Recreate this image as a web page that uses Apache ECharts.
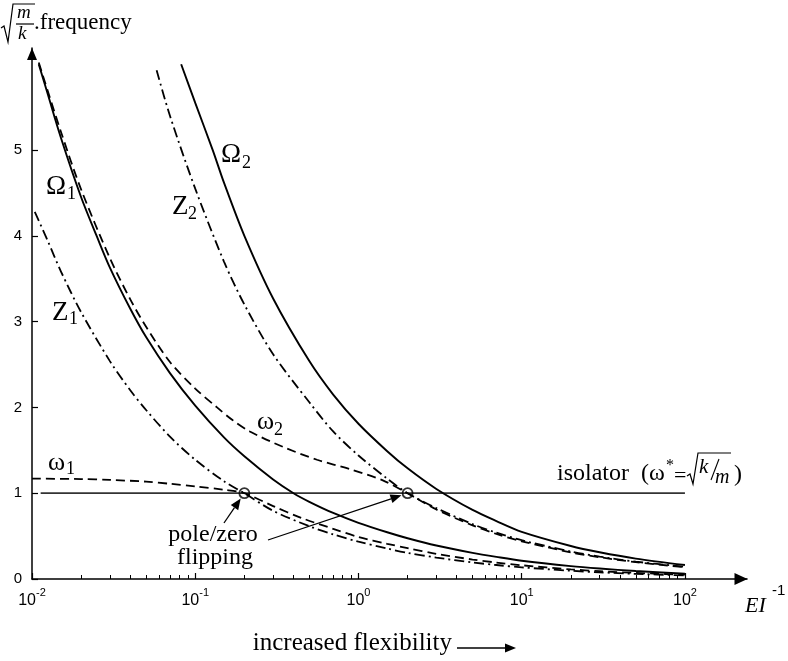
<!DOCTYPE html>
<html>
<head>
<meta charset="utf-8">
<script src="https://cdn.jsdelivr.net/npm/echarts@6/dist/echarts.min.js"></script>
<style>
  html, body { margin: 0; background: #fff; }
  #chart { width: 788px; height: 661px; }
</style>
</head>
<body>
<div id="chart"></div>
<script>
// tick values
const X_TICKS = [0.01, 0.1, 1, 10, 100];
const Y_TICKS = [0, 1, 2, 3, 4, 5];
const X_MINOR = [];
X_TICKS.slice(0, 4).forEach(d => {
    for (let k = 2; k <= 9; k++) X_MINOR.push(+(d * k).toPrecision(3));
});

// curves: [EI^-1, sqrt(m/k)*frequency]
const OMEGA_1 = [[0.011, 6.0], [0.0125, 5.65], [0.015, 5.15], [0.02, 4.45], [0.025, 3.99], [0.03, 3.63],
    [0.04, 3.15], [0.05, 2.82], [0.07, 2.40], [0.1, 2.02], [0.15, 1.65], [0.2, 1.43], [0.3, 1.16],
    [0.4, 1.0], [0.5, 0.90], [0.7, 0.77], [1, 0.655], [1.5, 0.545], [2, 0.475], [3, 0.39], [5, 0.305],
    [7, 0.258], [10, 0.213], [20, 0.15], [30, 0.122], [50, 0.093], [100, 0.063]];
const OMEGA_2 = [[0.082, 6.0], [0.1, 5.55], [0.128, 5.0], [0.15, 4.62], [0.2, 4.0], [0.3, 3.27],
    [0.5, 2.54], [0.7, 2.15], [1, 1.81], [1.5, 1.49], [2, 1.29], [3, 1.05], [5, 0.805], [7, 0.675],
    [10, 0.55], [20, 0.385], [30, 0.312], [50, 0.238], [100, 0.163]];
const ZERO_1 = [[0.0104, 4.28], [0.0125, 3.94], [0.015, 3.59], [0.02, 3.11], [0.03, 2.54], [0.04, 2.2],
    [0.05, 1.97], [0.07, 1.66], [0.1, 1.39], [0.15, 1.14], [0.2, 1.0], [0.3, 0.795], [0.5, 0.615],
    [0.7, 0.52], [1, 0.435], [1.5, 0.355], [2, 0.305], [3, 0.25], [5, 0.193], [7, 0.163], [10, 0.136],
    [20, 0.096], [30, 0.078], [50, 0.06], [100, 0.042]];
const ZERO_2 = [[0.058, 5.93], [0.07, 5.4], [0.1, 4.55], [0.15, 3.7], [0.2, 3.2], [0.3, 2.62],
    [0.5, 2.06], [0.7, 1.72], [1, 1.44], [1.5, 1.17], [2, 1.0], [3, 0.826], [5, 0.64], [7, 0.54],
    [10, 0.452], [20, 0.32], [30, 0.261], [50, 0.202], [100, 0.143]];
const W_1 = [[0.01, 1.17], [0.02, 1.165], [0.03, 1.155], [0.05, 1.135], [0.07, 1.11], [0.1, 1.08],
    [0.15, 1.04], [0.2, 1.0], [0.3, 0.85], [0.45, 0.71], [0.7, 0.585], [1, 0.49], [1.5, 0.41],
    [2, 0.36], [3, 0.293], [5, 0.227], [7, 0.192], [10, 0.16], [20, 0.112], [30, 0.092], [50, 0.071],
    [100, 0.05]];
const W_2 = [[0.011, 6.02], [0.015, 5.22], [0.02, 4.54], [0.03, 3.74], [0.04, 3.26], [0.05, 2.94],
    [0.07, 2.53], [0.1, 2.22], [0.136, 2.0], [0.17, 1.85], [0.216, 1.72], [0.345, 1.54], [0.557, 1.39],
    [0.887, 1.28], [1.41, 1.15], [2, 1.0], [3, 0.81], [5, 0.625], [7, 0.525], [10, 0.44], [20, 0.31],
    [30, 0.254], [50, 0.196], [100, 0.138]];
const ISOLATOR = [[0.0113, 1], [100, 1]];
const POLE_ZERO = [[0.2, 1], [2, 1]];

const SERIF = "'Liberation Serif', 'Times New Roman', serif";
const SANS = "'Liberation Sans', Arial, sans-serif";

const chart = echarts.init(document.getElementById("chart"));

const curve = (data, type, width) => ({
    type: "line",
    data: data,
    showSymbol: false,
    smooth: 0.3,
    silent: true,
    lineStyle: { color: "#000", width: width, type: type }
});

const DASH = [9, 5];
const DASH_DOT = [10, 4, 2, 4];

const option = {
    animation: false,
    backgroundColor: "#fff",
    grid: { left: 32, right: 41, top: 48, bottom: 82 },
    xAxis: [
        {
            type: "log",
            logBase: 10,
            min: 0.01,
            max: 240,
            axisLine: {
                onZero: false,
                symbol: ["none", "triangle"],
                symbolSize: [12, 13],
                symbolOffset: [0, -6],
                lineStyle: { color: "#000", width: 1.5 }
            },
            axisTick: { inside: true, length: 6, customValues: X_TICKS, lineStyle: { color: "#000", width: 1.2 } },
            axisLabel: {
                customValues: X_TICKS,
                margin: 8,
                formatter: v => "{a|10}{s|" + Math.round(Math.log10(v)) + "}",
                rich: {
                    a: { fontFamily: SANS, fontSize: 16, color: "#000", lineHeight: 28, verticalAlign: "middle" },
                    s: { fontFamily: SANS, fontSize: 11, color: "#000", lineHeight: 12, verticalAlign: "top" }
                }
            },
            splitLine: { show: false }
        },
        {
            type: "log",
            logBase: 10,
            min: 0.01,
            max: 240,
            position: "bottom",
            axisLine: { show: false },
            axisTick: { inside: true, length: 4, customValues: X_MINOR, lineStyle: { color: "#000", width: 1 } },
            axisLabel: { show: false },
            splitLine: { show: false }
        }
    ],
    yAxis: {
        type: "value",
        min: 0,
        max: 6.19,
        axisLine: {
            show: true,
            onZero: false,
            symbol: ["none", "triangle"],
            symbolSize: [10, 12],
            symbolOffset: [0, -6],
            lineStyle: { color: "#000", width: 1.5 }
        },
        axisTick: { show: true, inside: true, length: 6, customValues: Y_TICKS, lineStyle: { color: "#000", width: 1.2 } },
        axisLabel: { customValues: Y_TICKS, margin: 10, fontFamily: SANS, fontSize: 15, color: "#000" },
        splitLine: { show: false }
    },
    series: [
        {
            type: "line",
            data: ISOLATOR,
            showSymbol: false,
            silent: true,
            lineStyle: { color: "#333", width: 1.8 }
        },
        curve(OMEGA_1, "solid", 1.9),
        curve(OMEGA_2, "solid", 1.9),
        curve(W_1, DASH, 1.8),
        curve(W_2, DASH, 1.8),
        curve(ZERO_1, DASH_DOT, 1.8),
        curve(ZERO_2, DASH_DOT, 1.8),
        {
            type: "scatter",
            data: POLE_ZERO,
            symbol: "circle",
            symbolSize: 10,
            silent: true,
            z: 5,
            itemStyle: { color: "rgba(0,0,0,0)", borderColor: "#000", borderWidth: 1.8 }
        }
    ]
};
chart.setOption(option);

// annotation helpers
function txt(text, x, y, size, extra) {
    const style = Object.assign({
        text: text, fontFamily: SERIF, fontSize: size, fill: "#000",
        textAlign: "left", align: "left", textVerticalAlign: "middle", verticalAlign: "middle"
    }, extra || {});
    return { type: "text", x: x, y: y, silent: true, style: style };
}
function seg(points, w) {
    return { type: "polyline", silent: true, shape: { points: points }, style: { stroke: "#000", lineWidth: w || 1.3, fill: null } };
}
function arrow(tail, tip, len, half) {
    const dx = tip[0] - tail[0], dy = tip[1] - tail[1];
    const d = Math.hypot(dx, dy), ux = dx / d, uy = dy / d;
    const bx = tip[0] - ux * len, by = tip[1] - uy * len;
    return [
        seg([tail, [bx, by]], 1.3),
        {
            type: "polygon", silent: true,
            shape: { points: [tip, [bx - uy * half, by + ux * half], [bx + uy * half, by - ux * half]] },
            style: { fill: "#000" }
        }
    ];
}
function toCircle(tail, value, r) {
    const c = chart.convertToPixel({ xAxisIndex: 0, yAxisIndex: 0 }, value);
    const dx = tail[0] - c[0], dy = tail[1] - c[1], d = Math.hypot(dx, dy);
    return [c[0] + dx / d * r, c[1] + dy / d * r];
}

const tail1 = [224, 523], tail2 = [268, 540];
const graphics = [
    // y axis title: sqrt(m/k).frequency
    seg([[1, 28], [4, 26], [8, 42], [13, 4], [35, 4]], 1.2),
    txt("m", 17, 13, 19, { fontStyle: "italic" }),
    seg([[16, 24], [34, 24]], 1.2),
    txt("k", 18, 34, 19, { fontStyle: "italic" }),
    txt(".frequency", 34, 23, 23),
    // x axis title
    txt("EI", 745, 606, 22, { fontStyle: "italic" }),
    txt("-1", 772, 591, 15, { fontFamily: SANS }),
    txt("increased flexibility", 452, 643, 25, { textAlign: "right", align: "right" }),
    ...arrow([457, 648], [516, 648], 11, 4.5),
    // curve labels
    txt("Ω", 46, 187, 27), txt("1", 67, 194, 18),
    txt("Ω", 221, 155, 27), txt("2", 242, 163, 18),
    txt("Z", 52, 313, 27), txt("1", 69, 319, 18),
    txt("Z", 172, 207, 27), txt("2", 188, 214, 18),
    txt("ω", 48, 463, 26), txt("1", 66, 469, 18),
    txt("ω", 257, 422, 26), txt("2", 274, 430, 18),
    // isolator
    txt("isolator  (ω", 557, 474, 24),
    txt("*", 666, 466, 16),
    txt("=", 674, 476, 22),
    seg([[687, 476], [690, 474], [693, 484], [698, 453], [731, 453]], 1.2),
    txt("k", 699, 467, 21, { fontStyle: "italic" }),
    seg([[711, 480], [719, 459]], 1.1),
    txt("m", 715, 478, 20, { fontStyle: "italic" }),
    txt(")", 734, 475, 24),
    // pole/zero flipping
    txt("pole/zero", 213, 535, 24, { textAlign: "center", align: "center" }),
    txt("flipping", 215, 558, 24, { textAlign: "center", align: "center" }),
    ...arrow(tail1, toCircle(tail1, POLE_ZERO[0], 6.5), 11, 4.5),
    ...arrow(tail2, toCircle(tail2, POLE_ZERO[1], 6.5), 11, 4.5)
];
chart.setOption({ graphic: graphics });
</script>
</body>
</html>
